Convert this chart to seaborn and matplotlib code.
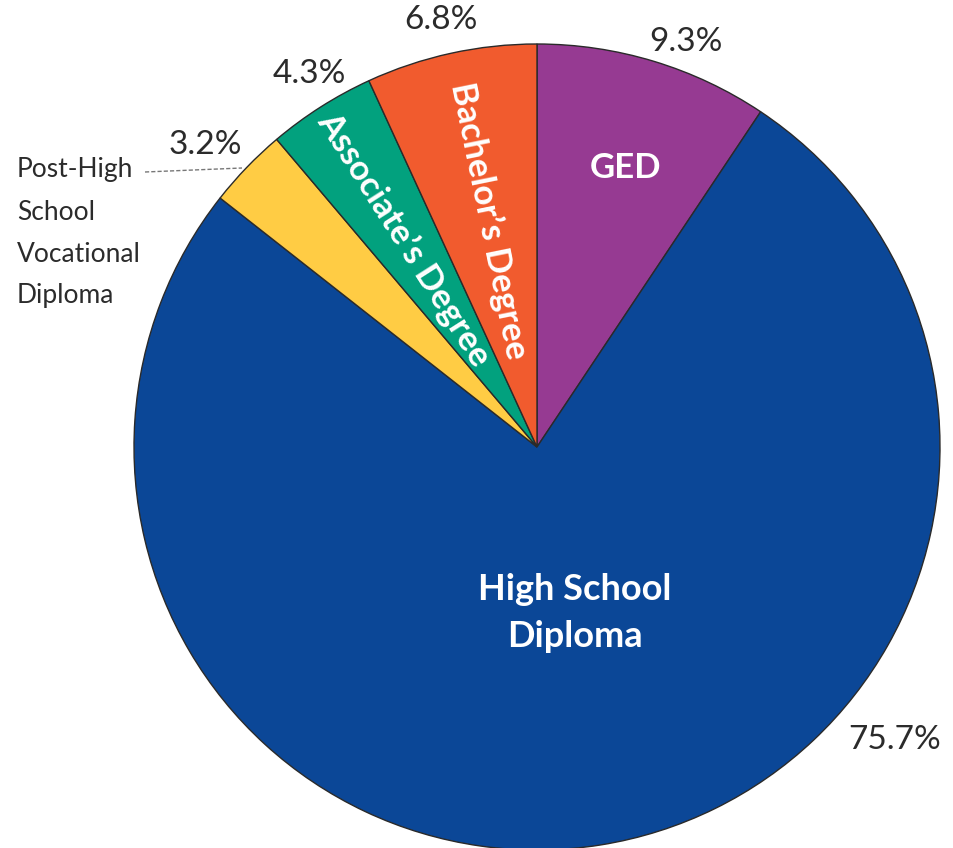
import matplotlib
matplotlib.use("Agg")
import matplotlib.pyplot as plt
import seaborn as sns
import numpy as np

sns.set_theme(style="white")
plt.rcParams['font.family'] = ['Lato', 'DejaVu Sans']

# Data (clockwise from 12 o'clock)
categories = ["GED", "High School Diploma", "Post-High School Vocational Diploma",
              "Associate's Degree", "Bachelor's Degree"]
values = [9.3, 75.7, 3.2, 4.3, 6.8]
pct_labels = ["9.3%", "75.7%", "3.2%", "4.3%", "6.8%"]
inner_labels = ["GED", "High School\nDiploma", "", "Associate\u2019s Degree", "Bachelor\u2019s Degree"]
colors = ["#963A92", "#0B4797", "#FFCC44", "#02A17E", "#F15B2E"]

W, H = 954, 848
fig = plt.figure(figsize=(W / 100, H / 100), dpi=100)
ax = fig.add_axes([0, 0, 1, 1])

cx, cy, R = 537, 447, 403
def px(x, y):
    return ((x - cx) / R, (cy - y) / R)

wedges, _ = ax.pie(values, colors=colors, startangle=90, counterclock=False,
                   radius=1.0, center=(0, 0),
                   wedgeprops=dict(edgecolor="#2a2a2a", linewidth=1.0))
ax.set_xlim(-cx / R, (W - cx) / R)
ax.set_ylim((cy - H) / R, cy / R)
ax.set_aspect('auto')
ax.axis('off')

# Outside percentage labels
pct_pos = [(686, 42), (895, 740), (205, 145), (309, 74), (441, 20)]
for lab, (x, y) in zip(pct_labels, pct_pos):
    ax.text(*px(x, y), lab, ha='center', va='center', fontsize=24, color='#2b2b2b')

# Inner labels
inner_pos = [(626, 168), (575, 613), None, (404, 239), (489, 221)]
inner_rot = [0, 0, 0, -57.5, -78.5]
inner_size = [25, 26, 0, 25, 25]
for lab, pos, rot, fs in zip(inner_labels, inner_pos, inner_rot, inner_size):
    if pos is None or not lab:
        continue
    ax.text(*px(*pos), lab, ha='center', va='center', fontsize=fs, color='white',
            fontweight='bold', rotation=rot, rotation_mode='anchor', linespacing=1.55)

# Left label for vocational diploma
ax.text(*px(17, 233), "Post-High\nSchool\nVocational\nDiploma", ha='left', va='center',
        fontsize=19, color='#2b2b2b', linespacing=1.85)
x0, y0 = px(145, 172)
x1, y1 = px(242, 168)
ax.plot([x0, x1], [y0, y1], linestyle=(0, (3, 1.5)), color='#777777', linewidth=1)

fig.savefig("out.png", dpi=100)
